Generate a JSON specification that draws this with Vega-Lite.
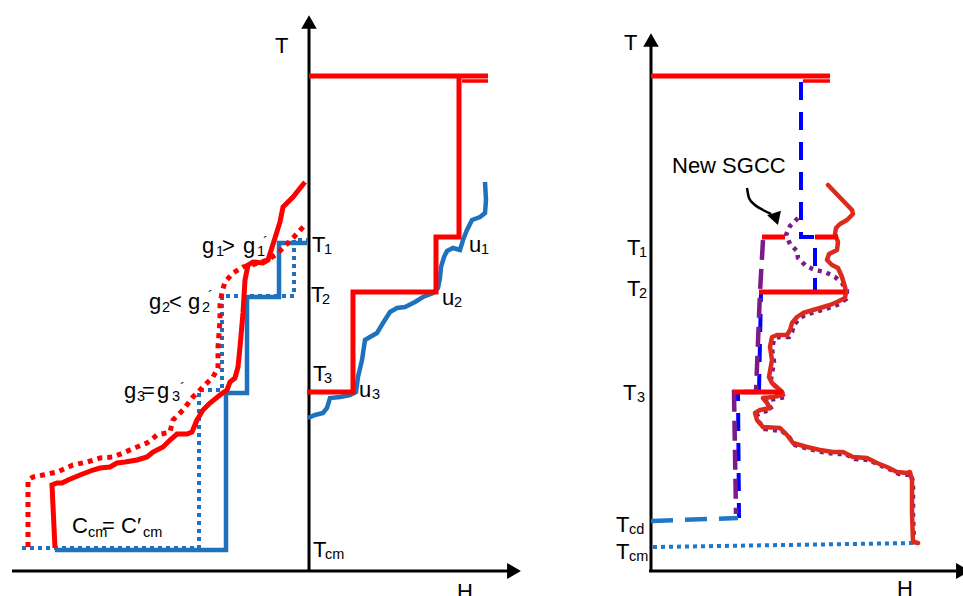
{
"$schema": "https://vega.github.io/schema/vega-lite/v6.json",
"width": 963, "height": 596, "padding": 0,
"autosize": {"type": "none"},
"background": "white",
"config": {"view": {"stroke": null}},
"datasets": {
"lines": [
{"c":"axis","s":"a1","x":309,"y":28},{"c":"axis","s":"a1","x":309,"y":571},
{"c":"axis","s":"a2","x":12,"y":571},{"c":"axis","s":"a2","x":508,"y":571},
{"c":"axis","s":"a3","x":651,"y":46},{"c":"axis","s":"a3","x":651,"y":572},
{"c":"axis","s":"a4","x":649,"y":571},{"c":"axis","s":"a4","x":956,"y":571},

{"c":"hot","s":"h1","x":309,"y":76},{"c":"hot","s":"h1","x":488,"y":76},
{"c":"thin","s":"h2","x":462,"y":81},{"c":"thin","s":"h2","x":488,"y":81},
{"c":"hot","s":"h3","x":459,"y":76},{"c":"hot","s":"h3","x":459,"y":237},{"c":"hot","s":"h3","x":436,"y":237},{"c":"hot","s":"h3","x":436,"y":292},{"c":"hot","s":"h3","x":353,"y":292},{"c":"hot","s":"h3","x":353,"y":392},{"c":"hot","s":"h3","x":307,"y":392},
{"c":"hot","s":"h4","x":651,"y":76},{"c":"hot","s":"h4","x":830,"y":76},
{"c":"thin","s":"h5","x":803,"y":81},{"c":"thin","s":"h5","x":830,"y":81},
{"c":"hot","s":"h6","x":762,"y":237},{"c":"hot","s":"h6","x":785,"y":237},
{"c":"hot","s":"h7","x":815,"y":237},{"c":"hot","s":"h7","x":838,"y":237},
{"c":"hot","s":"h8","x":759,"y":292},{"c":"hot","s":"h8","x":845,"y":292},
{"c":"hot","s":"h9","x":733,"y":392},{"c":"hot","s":"h9","x":783,"y":392},
{"c":"hot","s":"h10","x":55,"y":548},{"c":"hot","s":"h10","x":52,"y":485},{"c":"hot","s":"h10","x":57,"y":483},{"c":"hot","s":"h10","x":62,"y":483},{"c":"hot","s":"h10","x":68,"y":480},{"c":"hot","s":"h10","x":80,"y":475},{"c":"hot","s":"h10","x":93,"y":470},{"c":"hot","s":"h10","x":100,"y":468},{"c":"hot","s":"h10","x":110,"y":467},{"c":"hot","s":"h10","x":117,"y":463},{"c":"hot","s":"h10","x":125,"y":462},{"c":"hot","s":"h10","x":137,"y":460},{"c":"hot","s":"h10","x":147,"y":457},{"c":"hot","s":"h10","x":153,"y":452},{"c":"hot","s":"h10","x":163,"y":447},{"c":"hot","s":"h10","x":170,"y":440},{"c":"hot","s":"h10","x":177,"y":434},{"c":"hot","s":"h10","x":187,"y":434},{"c":"hot","s":"h10","x":192,"y":432},{"c":"hot","s":"h10","x":197,"y":420},{"c":"hot","s":"h10","x":203,"y":410},{"c":"hot","s":"h10","x":210,"y":403},{"c":"hot","s":"h10","x":220,"y":395},{"c":"hot","s":"h10","x":227,"y":390},{"c":"hot","s":"h10","x":230,"y":382},{"c":"hot","s":"h10","x":235,"y":378},{"c":"hot","s":"h10","x":238,"y":367},{"c":"hot","s":"h10","x":240,"y":347},{"c":"hot","s":"h10","x":243,"y":313},{"c":"hot","s":"h10","x":245,"y":280},{"c":"hot","s":"h10","x":248,"y":265},{"c":"hot","s":"h10","x":253,"y":262},{"c":"hot","s":"h10","x":263,"y":263},{"c":"hot","s":"h10","x":268,"y":260},{"c":"hot","s":"h10","x":275,"y":238},{"c":"hot","s":"h10","x":280,"y":222},{"c":"hot","s":"h10","x":283,"y":207},{"c":"hot","s":"h10","x":293,"y":197},{"c":"hot","s":"h10","x":305,"y":182},

{"c":"hot2","s":"d1","x":28,"y":547},{"c":"hot2","s":"d1","x":28,"y":480},{"c":"hot2","s":"d1","x":33,"y":477},{"c":"hot2","s":"d1","x":43,"y":475},{"c":"hot2","s":"d1","x":57,"y":472},{"c":"hot2","s":"d1","x":73,"y":465},{"c":"hot2","s":"d1","x":87,"y":462},{"c":"hot2","s":"d1","x":100,"y":458},{"c":"hot2","s":"d1","x":113,"y":457},{"c":"hot2","s":"d1","x":123,"y":453},{"c":"hot2","s":"d1","x":137,"y":447},{"c":"hot2","s":"d1","x":147,"y":443},{"c":"hot2","s":"d1","x":157,"y":435},{"c":"hot2","s":"d1","x":170,"y":432},{"c":"hot2","s":"d1","x":173,"y":420},{"c":"hot2","s":"d1","x":183,"y":410},{"c":"hot2","s":"d1","x":193,"y":397},{"c":"hot2","s":"d1","x":203,"y":387},{"c":"hot2","s":"d1","x":213,"y":377},{"c":"hot2","s":"d1","x":218,"y":368},{"c":"hot2","s":"d1","x":218,"y":347},{"c":"hot2","s":"d1","x":220,"y":320},{"c":"hot2","s":"d1","x":220,"y":305},{"c":"hot2","s":"d1","x":222,"y":292},{"c":"hot2","s":"d1","x":225,"y":282},{"c":"hot2","s":"d1","x":233,"y":273},{"c":"hot2","s":"d1","x":243,"y":267},{"c":"hot2","s":"d1","x":255,"y":264},{"c":"hot2","s":"d1","x":268,"y":260},{"c":"hot2","s":"d1","x":278,"y":253},{"c":"hot2","s":"d1","x":293,"y":238},{"c":"hot2","s":"d1","x":304,"y":226},

{"c":"cold","s":"b1","x":55,"y":550},{"c":"cold","s":"b1","x":226,"y":550},{"c":"cold","s":"b1","x":226,"y":393},{"c":"cold","s":"b1","x":247,"y":393},{"c":"cold","s":"b1","x":247,"y":297},{"c":"cold","s":"b1","x":279,"y":297},{"c":"cold","s":"b1","x":279,"y":243},{"c":"cold","s":"b1","x":307,"y":243},
{"c":"cold","s":"b2","x":308,"y":418},{"c":"cold","s":"b2","x":315,"y":415},{"c":"cold","s":"b2","x":323,"y":413},{"c":"cold","s":"b2","x":327,"y":408},{"c":"cold","s":"b2","x":330,"y":398},{"c":"cold","s":"b2","x":340,"y":397},{"c":"cold","s":"b2","x":350,"y":395},{"c":"cold","s":"b2","x":356,"y":392},{"c":"cold","s":"b2","x":358,"y":377},{"c":"cold","s":"b2","x":362,"y":360},{"c":"cold","s":"b2","x":365,"y":340},{"c":"cold","s":"b2","x":370,"y":337},{"c":"cold","s":"b2","x":377,"y":333},{"c":"cold","s":"b2","x":383,"y":323},{"c":"cold","s":"b2","x":390,"y":312},{"c":"cold","s":"b2","x":397,"y":308},{"c":"cold","s":"b2","x":405,"y":307},{"c":"cold","s":"b2","x":415,"y":302},{"c":"cold","s":"b2","x":423,"y":297},{"c":"cold","s":"b2","x":433,"y":293},{"c":"cold","s":"b2","x":438,"y":288},{"c":"cold","s":"b2","x":440,"y":278},{"c":"cold","s":"b2","x":441,"y":267},{"c":"cold","s":"b2","x":444,"y":257},{"c":"cold","s":"b2","x":447,"y":251},{"c":"cold","s":"b2","x":453,"y":248},{"c":"cold","s":"b2","x":460,"y":250},{"c":"cold","s":"b2","x":463,"y":240},{"c":"cold","s":"b2","x":467,"y":230},{"c":"cold","s":"b2","x":472,"y":220},{"c":"cold","s":"b2","x":480,"y":217},{"c":"cold","s":"b2","x":485,"y":213},{"c":"cold","s":"b2","x":486,"y":200},{"c":"cold","s":"b2","x":485,"y":182},

{"c":"cold2","s":"e1","x":22,"y":548},{"c":"cold2","s":"e1","x":199,"y":548},{"c":"cold2","s":"e1","x":199,"y":390},{"c":"cold2","s":"e1","x":222,"y":390},{"c":"cold2","s":"e1","x":222,"y":296},{"c":"cold2","s":"e1","x":294,"y":296},{"c":"cold2","s":"e1","x":294,"y":240},{"c":"cold2","s":"e1","x":308,"y":240},

{"c":"gcc","s":"g1","x":801,"y":82},{"c":"gcc","s":"g1","x":801,"y":237},{"c":"gcc","s":"g1","x":815,"y":237},{"c":"gcc","s":"g1","x":815,"y":292},{"c":"gcc","s":"g1","x":761,"y":292},{"c":"gcc","s":"g1","x":759,"y":392},{"c":"gcc","s":"g1","x":738,"y":392},{"c":"gcc","s":"g1","x":739,"y":518},

{"c":"sgcc","s":"p1","x":763,"y":240},{"c":"sgcc","s":"p1","x":760,"y":292},{"c":"sgcc","s":"p1","x":756,"y":392},{"c":"sgcc","s":"p1","x":734,"y":392},{"c":"sgcc","s":"p1","x":736,"y":514},

{"c":"tcd","s":"t1","x":651,"y":521},{"c":"tcd","s":"t1","x":738,"y":518},
{"c":"tcm","s":"t2","x":653,"y":547},{"c":"tcm","s":"t2","x":917,"y":543},

{"c":"sgcc2","s":"q1","x":798,"y":218},{"c":"sgcc2","s":"q1","x":790,"y":226},{"c":"sgcc2","s":"q1","x":786,"y":235},{"c":"sgcc2","s":"q1","x":790,"y":244},{"c":"sgcc2","s":"q1","x":797,"y":251},{"c":"sgcc2","s":"q1","x":798,"y":258},{"c":"sgcc2","s":"q1","x":806,"y":266},{"c":"sgcc2","s":"q1","x":815,"y":270},{"c":"sgcc2","s":"q1","x":825,"y":272},{"c":"sgcc2","s":"q1","x":835,"y":277},{"c":"sgcc2","s":"q1","x":842,"y":283},{"c":"sgcc2","s":"q1","x":847,"y":291},{"c":"sgcc2","s":"q1","x":846,"y":299},{"c":"sgcc2","s":"q1","x":839,"y":304},{"c":"sgcc2","s":"q1","x":832,"y":307},{"c":"sgcc2","s":"q1","x":822,"y":310},{"c":"sgcc2","s":"q1","x":815,"y":312},{"c":"sgcc2","s":"q1","x":805,"y":315},{"c":"sgcc2","s":"q1","x":799,"y":319},{"c":"sgcc2","s":"q1","x":794,"y":325},{"c":"sgcc2","s":"q1","x":792,"y":332},{"c":"sgcc2","s":"q1","x":789,"y":337},{"c":"sgcc2","s":"q1","x":779,"y":337},{"c":"sgcc2","s":"q1","x":774,"y":339},{"c":"sgcc2","s":"q1","x":772,"y":349},{"c":"sgcc2","s":"q1","x":774,"y":362},{"c":"sgcc2","s":"q1","x":771,"y":379},{"c":"sgcc2","s":"q1","x":774,"y":385},{"c":"sgcc2","s":"q1","x":782,"y":392},{"c":"sgcc2","s":"q1","x":785,"y":397},{"c":"sgcc2","s":"q1","x":775,"y":399},{"c":"sgcc2","s":"q1","x":765,"y":400},{"c":"sgcc2","s":"q1","x":769,"y":405},{"c":"sgcc2","s":"q1","x":772,"y":410},{"c":"sgcc2","s":"q1","x":762,"y":412},{"c":"sgcc2","s":"q1","x":757,"y":415},{"c":"sgcc2","s":"q1","x":759,"y":422},{"c":"sgcc2","s":"q1","x":765,"y":429},{"c":"sgcc2","s":"q1","x":782,"y":431},{"c":"sgcc2","s":"q1","x":789,"y":437},{"c":"sgcc2","s":"q1","x":795,"y":445},{"c":"sgcc2","s":"q1","x":809,"y":449},{"c":"sgcc2","s":"q1","x":822,"y":452},{"c":"sgcc2","s":"q1","x":835,"y":454},{"c":"sgcc2","s":"q1","x":845,"y":454},{"c":"sgcc2","s":"q1","x":855,"y":459},{"c":"sgcc2","s":"q1","x":869,"y":460},{"c":"sgcc2","s":"q1","x":879,"y":465},{"c":"sgcc2","s":"q1","x":889,"y":469},{"c":"sgcc2","s":"q1","x":899,"y":474},{"c":"sgcc2","s":"q1","x":909,"y":475},{"c":"sgcc2","s":"q1","x":911,"y":474},{"c":"sgcc2","s":"q1","x":913,"y":482},{"c":"sgcc2","s":"q1","x":913,"y":515},{"c":"sgcc2","s":"q1","x":914,"y":542},

{"c":"gccr","s":"r1","x":828,"y":185},{"c":"gccr","s":"r1","x":852,"y":210},{"c":"gccr","s":"r1","x":853,"y":214},{"c":"gccr","s":"r1","x":847,"y":220},{"c":"gccr","s":"r1","x":840,"y":224},{"c":"gccr","s":"r1","x":836,"y":228},{"c":"gccr","s":"r1","x":835,"y":234},{"c":"gccr","s":"r1","x":838,"y":242},{"c":"gccr","s":"r1","x":837,"y":250},{"c":"gccr","s":"r1","x":829,"y":254},{"c":"gccr","s":"r1","x":827,"y":260},{"c":"gccr","s":"r1","x":832,"y":265},{"c":"gccr","s":"r1","x":838,"y":268},{"c":"gccr","s":"r1","x":842,"y":277},{"c":"gccr","s":"r1","x":845,"y":287},{"c":"gccr","s":"r1","x":846,"y":292},{"c":"gccr","s":"r1","x":845,"y":298},{"c":"gccr","s":"r1","x":837,"y":302},{"c":"gccr","s":"r1","x":830,"y":305},{"c":"gccr","s":"r1","x":820,"y":308},{"c":"gccr","s":"r1","x":813,"y":310},{"c":"gccr","s":"r1","x":803,"y":313},{"c":"gccr","s":"r1","x":797,"y":317},{"c":"gccr","s":"r1","x":792,"y":323},{"c":"gccr","s":"r1","x":790,"y":330},{"c":"gccr","s":"r1","x":787,"y":335},{"c":"gccr","s":"r1","x":777,"y":335},{"c":"gccr","s":"r1","x":772,"y":337},{"c":"gccr","s":"r1","x":770,"y":347},{"c":"gccr","s":"r1","x":772,"y":360},{"c":"gccr","s":"r1","x":769,"y":377},{"c":"gccr","s":"r1","x":772,"y":383},{"c":"gccr","s":"r1","x":780,"y":390},{"c":"gccr","s":"r1","x":783,"y":395},{"c":"gccr","s":"r1","x":773,"y":397},{"c":"gccr","s":"r1","x":763,"y":398},{"c":"gccr","s":"r1","x":767,"y":403},{"c":"gccr","s":"r1","x":770,"y":408},{"c":"gccr","s":"r1","x":760,"y":410},{"c":"gccr","s":"r1","x":755,"y":413},{"c":"gccr","s":"r1","x":757,"y":420},{"c":"gccr","s":"r1","x":763,"y":427},{"c":"gccr","s":"r1","x":780,"y":428},{"c":"gccr","s":"r1","x":787,"y":435},{"c":"gccr","s":"r1","x":793,"y":443},{"c":"gccr","s":"r1","x":807,"y":447},{"c":"gccr","s":"r1","x":820,"y":450},{"c":"gccr","s":"r1","x":833,"y":452},{"c":"gccr","s":"r1","x":843,"y":452},{"c":"gccr","s":"r1","x":853,"y":457},{"c":"gccr","s":"r1","x":867,"y":458},{"c":"gccr","s":"r1","x":877,"y":463},{"c":"gccr","s":"r1","x":887,"y":467},{"c":"gccr","s":"r1","x":897,"y":472},{"c":"gccr","s":"r1","x":907,"y":473},{"c":"gccr","s":"r1","x":910,"y":472},{"c":"gccr","s":"r1","x":912,"y":480},{"c":"gccr","s":"r1","x":912,"y":513},{"c":"gccr","s":"r1","x":913,"y":542},{"c":"gccr","s":"r1","x":918,"y":543},

{"c":"arw","s":"w1","x":747,"y":188},{"c":"arw","s":"w1","x":749,"y":198},{"c":"arw","s":"w1","x":755,"y":205},{"c":"arw","s":"w1","x":763,"y":210},{"c":"arw","s":"w1","x":771,"y":214}
],
"heads": [
{"d":"up","x":309,"y":22},{"d":"right","x":514,"y":571},
{"d":"up","x":651,"y":40},{"d":"right","x":963,"y":571},
{"d":"sg","x":776,"y":219}
],
"labels": [
{"g":"main","x":275,"y":53,"t":"T"},{"g":"main","x":457,"y":599,"t":"H"},
{"g":"main","x":312,"y":252,"t":"T"},{"g":"main","x":311,"y":302,"t":"T"},{"g":"main","x":313,"y":381,"t":"T"},{"g":"main","x":313,"y":557,"t":"T"},
{"g":"main","x":469,"y":252,"t":"u"},{"g":"main","x":442,"y":305,"t":"u"},{"g":"main","x":359,"y":397,"t":"u"},
{"g":"main","x":202,"y":253,"t":"g"},{"g":"main","x":222,"y":253,"t":">"},{"g":"main","x":243,"y":253,"t":"g"},
{"g":"main","x":149,"y":309,"t":"g"},{"g":"main","x":169,"y":309,"t":"<"},{"g":"main","x":188,"y":309,"t":"g"},
{"g":"main","x":124,"y":398,"t":"g"},{"g":"main","x":142,"y":398,"t":"="},{"g":"main","x":157,"y":398,"t":"g"},
{"g":"main","x":72,"y":533,"t":"C"},{"g":"main","x":102,"y":533,"t":"="},{"g":"main","x":121,"y":533,"t":"C′"},
{"g":"main","x":624,"y":50,"t":"T"},{"g":"main","x":627,"y":255,"t":"T"},{"g":"main","x":627,"y":296,"t":"T"},{"g":"main","x":623,"y":400,"t":"T"},{"g":"main","x":616,"y":532,"t":"T"},{"g":"main","x":616,"y":559,"t":"T"},
{"g":"main","x":897,"y":596,"t":"H"},{"g":"main","x":672,"y":173,"t":"New SGCC"},
{"g":"sub","x":324,"y":254,"t":"1"},{"g":"sub","x":322,"y":304,"t":"2"},{"g":"sub","x":324,"y":383,"t":"3"},{"g":"sub","x":325,"y":559,"t":"cm"},
{"g":"sub","x":481,"y":254,"t":"1"},{"g":"sub","x":454,"y":307,"t":"2"},{"g":"sub","x":372,"y":399,"t":"3"},
{"g":"sub","x":216,"y":256,"t":"1"},{"g":"sub","x":257,"y":256,"t":"1"},
{"g":"sub","x":162,"y":312,"t":"2"},{"g":"sub","x":202,"y":312,"t":"2"},
{"g":"sub","x":137,"y":401,"t":"3"},{"g":"sub","x":172,"y":401,"t":"3"},
{"g":"sub","x":88,"y":537,"t":"cm"},{"g":"sub","x":143,"y":537,"t":"cm"},
{"g":"sub","x":639,"y":257,"t":"1"},{"g":"sub","x":639,"y":298,"t":"2"},{"g":"sub","x":637,"y":402,"t":"3"},{"g":"sub","x":629,"y":534,"t":"cd"},{"g":"sub","x":629,"y":561,"t":"cm"},
{"g":"sub","x":263,"y":247,"t":"´"},{"g":"sub","x":208,"y":301,"t":"´"},{"g":"sub","x":180,"y":393,"t":"´"}
]
},
"encoding": {
"x": {"field":"x","type":"quantitative","scale":{"domain":[0,963],"nice":false,"zero":false},"axis":null},
"y": {"field":"y","type":"quantitative","scale":{"domain":[0,596],"nice":false,"zero":false,"reverse":true},"axis":null}
},
"layer": [
{"data":{"name":"lines"},"transform":[{"filter":"datum.c==='axis'"}],"mark":{"type":"line","color":"#000000","strokeWidth":3,"strokeCap":"butt"},"encoding":{"detail":{"field":"s"},"order":{"value":null}}},
{"data":{"name":"lines"},"transform":[{"filter":"datum.c==='cold'"}],"mark":{"type":"line","color":"#1e72bd","strokeWidth":4.5,"strokeCap":"butt","strokeJoin":"miter"},"encoding":{"detail":{"field":"s"},"order":{"value":null}}},
{"data":{"name":"lines"},"transform":[{"filter":"datum.c==='cold2'"}],"mark":{"type":"line","color":"#1e72bd","strokeWidth":4,"strokeDash":[4,4],"strokeCap":"butt","strokeJoin":"miter"},"encoding":{"detail":{"field":"s"},"order":{"value":null}}},
{"data":{"name":"lines"},"transform":[{"filter":"datum.c==='gcc'"}],"mark":{"type":"line","color":"#0000ff","strokeWidth":4,"strokeDash":[18,12],"strokeCap":"butt","strokeJoin":"miter"},"encoding":{"detail":{"field":"s"},"order":{"value":null}}},
{"data":{"name":"lines"},"transform":[{"filter":"datum.c==='sgcc'"}],"mark":{"type":"line","color":"#7b1a88","strokeWidth":4.5,"strokeDash":[20,9],"strokeCap":"butt","strokeJoin":"miter"},"encoding":{"detail":{"field":"s"},"order":{"value":null}}},
{"data":{"name":"lines"},"transform":[{"filter":"datum.c==='tcd'"}],"mark":{"type":"line","color":"#1f77c6","strokeWidth":4.5,"strokeDash":[22,12],"strokeCap":"butt"},"encoding":{"detail":{"field":"s"},"order":{"value":null}}},
{"data":{"name":"lines"},"transform":[{"filter":"datum.c==='tcm'"}],"mark":{"type":"line","color":"#1f77c6","strokeWidth":4,"strokeDash":[4,4],"strokeCap":"butt"},"encoding":{"detail":{"field":"s"},"order":{"value":null}}},
{"data":{"name":"lines"},"transform":[{"filter":"datum.c==='sgcc2'"}],"mark":{"type":"line","color":"#7b1a88","strokeWidth":4.5,"strokeDash":[4,5],"strokeCap":"butt"},"encoding":{"detail":{"field":"s"},"order":{"value":null}}},
{"data":{"name":"lines"},"transform":[{"filter":"datum.c==='hot2'"}],"mark":{"type":"line","color":"#ff0000","strokeWidth":5,"strokeDash":[5,5],"strokeCap":"butt"},"encoding":{"detail":{"field":"s"},"order":{"value":null}}},
{"data":{"name":"lines"},"transform":[{"filter":"datum.c==='gccr'"}],"mark":{"type":"line","color":"#dc2a1c","strokeWidth":4.5,"strokeCap":"round","strokeJoin":"round"},"encoding":{"detail":{"field":"s"},"order":{"value":null}}},
{"data":{"name":"lines"},"transform":[{"filter":"datum.c==='hot'"}],"mark":{"type":"line","color":"#ff0000","strokeWidth":5,"strokeCap":"butt","strokeJoin":"miter"},"encoding":{"detail":{"field":"s"},"order":{"value":null}}},
{"data":{"name":"lines"},"transform":[{"filter":"datum.c==='thin'"}],"mark":{"type":"line","color":"#ff0000","strokeWidth":3.5,"strokeCap":"butt"},"encoding":{"detail":{"field":"s"},"order":{"value":null}}},
{"data":{"name":"lines"},"transform":[{"filter":"datum.c==='arw'"}],"mark":{"type":"line","color":"#000000","strokeWidth":2.5,"interpolate":"monotone"},"encoding":{"detail":{"field":"s"},"order":{"value":null}}},
{"data":{"name":"heads"},"transform":[{"filter":"datum.d==='up'"}],"mark":{"type":"point","shape":"triangle-up","filled":true,"color":"#000000","size":240,"opacity":1}},
{"data":{"name":"heads"},"transform":[{"filter":"datum.d==='right'"}],"mark":{"type":"point","shape":"triangle-right","filled":true,"color":"#000000","size":256,"opacity":1}},
{"data":{"name":"heads"},"transform":[{"filter":"datum.d==='sg'"}],"mark":{"type":"point","shape":"triangle-down","filled":true,"color":"#000000","size":210,"angle":342,"opacity":1}},
{"data":{"name":"labels"},"transform":[{"filter":"datum.g==='main'"}],"mark":{"type":"text","font":"Liberation Sans","fontSize":22,"align":"left","baseline":"alphabetic","color":"#000000"},"encoding":{"text":{"field":"t"}}},
{"data":{"name":"labels"},"transform":[{"filter":"datum.g==='sub'"}],"mark":{"type":"text","font":"Liberation Sans","fontSize":14.5,"align":"left","baseline":"alphabetic","color":"#000000"},"encoding":{"text":{"field":"t"}}}
]
}
